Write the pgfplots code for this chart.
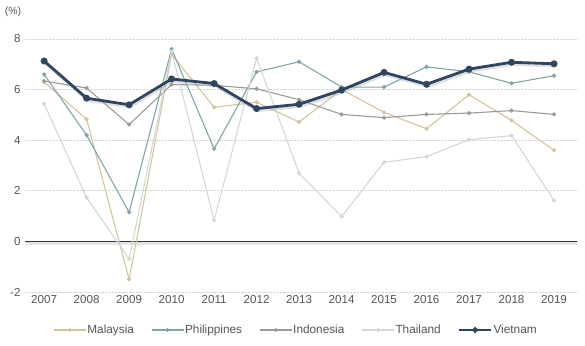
\documentclass[border=0pt]{standalone}
\usepackage{fontspec}
\setmainfont{Liberation Sans}
\usepackage{pgfplots}
\pgfplotsset{compat=1.18}
\definecolor{cMal}{HTML}{D4C59C}
\definecolor{cPhi}{HTML}{7FA6A6}
\definecolor{cIdn}{HTML}{9A9A9A}
\definecolor{cTha}{HTML}{D2D8D8}
\definecolor{cVie}{HTML}{2F4560}
\definecolor{cTxt}{HTML}{555555}
\begin{document}
\begin{tikzpicture}
\useasboundingbox (-25pt,-53pt) rectangle (560pt,292pt);
\begin{axis}[
  at={(0pt,0pt)}, anchor=south west,
  scale only axis, width=552pt, height=253pt,
  xmin=2006.55, xmax=2019.54, ymin=-2, ymax=8,
  xtick={2007,...,2019}, ytick={-2,0,2,4,6,8},
  /pgf/number format/assume math mode=true,
  /pgf/number format/set thousands separator={},
  ticklabel style={font=\fontsize{11.6}{13}\selectfont, text=cTxt},
  yticklabel style={xshift=-1pt},
  axis line style={draw=none},
  major tick length=0pt,
  ymajorgrids, grid style={densely dotted, color=black!16, line width=0.6pt},
  clip=false,
  legend columns=5,
  legend style={draw=none, at={(rel axis cs:0.49,0)}, yshift=-38pt, anchor=center,
    font=\fontsize{11.8}{13}\selectfont, text=cTxt, inner sep=0pt,
    /tikz/every even column/.append style={column sep=16pt},
    nodes={inner sep=1pt}},
  legend image code/.code={\draw[mark repeat=2,mark phase=2,#1,mark size=1.3pt] plot coordinates {(0pt,0pt)(16pt,0pt)(32pt,0pt)};},
]
\draw[line width=2.4pt, black!10] (axis cs:2006.55,0) ++(1pt,-2pt) -- ([shift={(1pt,-2pt)}]axis cs:2019.54,0);
\draw[line width=1.6pt, black!80] (axis cs:2006.55,0) -- (axis cs:2019.54,0);

\addplot[cMal, line width=1.1pt, mark=*, mark size=1.5pt] coordinates {
(2007,6.3) (2008,4.83) (2009,-1.5) (2010,7.4) (2011,5.3) (2012,5.5) (2013,4.72)
(2014,6.0) (2015,5.1) (2016,4.45) (2017,5.8) (2018,4.78) (2019,3.6)};
\addlegendentry{Malaysia}
\addplot[cPhi, line width=1.1pt, mark=*, mark size=1.5pt] coordinates {
(2007,6.6) (2008,4.2) (2009,1.15) (2010,7.6) (2011,3.66) (2012,6.7) (2013,7.1)
(2014,6.1) (2015,6.1) (2016,6.9) (2017,6.7) (2018,6.25) (2019,6.55)};
\addlegendentry{Philippines}
\addplot[cIdn, line width=1.1pt, mark=*, mark size=1.5pt] coordinates {
(2007,6.34) (2008,6.06) (2009,4.62) (2010,6.2) (2011,6.17) (2012,6.03) (2013,5.6)
(2014,5.02) (2015,4.89) (2016,5.02) (2017,5.07) (2018,5.17) (2019,5.02)};
\addlegendentry{Indonesia}
\addplot[cTha, line width=1.1pt, mark=*, mark size=1.5pt] coordinates {
(2007,5.44) (2008,1.73) (2009,-0.69) (2010,7.51) (2011,0.84) (2012,7.24) (2013,2.69)
(2014,0.98) (2015,3.13) (2016,3.35) (2017,4.02) (2018,4.18) (2019,1.62)};
\addlegendentry{Thailand}
\addplot[black!35, opacity=0.35, line width=3.2pt, xshift=1pt, yshift=-2pt, forget plot] coordinates {
(2007,7.13) (2008,5.66) (2009,5.4) (2010,6.42) (2011,6.24) (2012,5.25) (2013,5.42)
(2014,5.98) (2015,6.68) (2016,6.21) (2017,6.81) (2018,7.08) (2019,7.02)};
\addplot[cVie, line width=2.8pt, mark=*, mark size=2pt] coordinates {
(2007,7.13) (2008,5.66) (2009,5.4) (2010,6.42) (2011,6.24) (2012,5.25) (2013,5.42)
(2014,5.98) (2015,6.68) (2016,6.21) (2017,6.81) (2018,7.08) (2019,7.02)};
\addlegendentry{Vietnam}
\node[font=\fontsize{10.5}{12}\selectfont, text=cTxt] at ([shift={(-12pt,27pt)}]rel axis cs:0,1) {(\%)};
\end{axis}
\end{tikzpicture}
\end{document}
